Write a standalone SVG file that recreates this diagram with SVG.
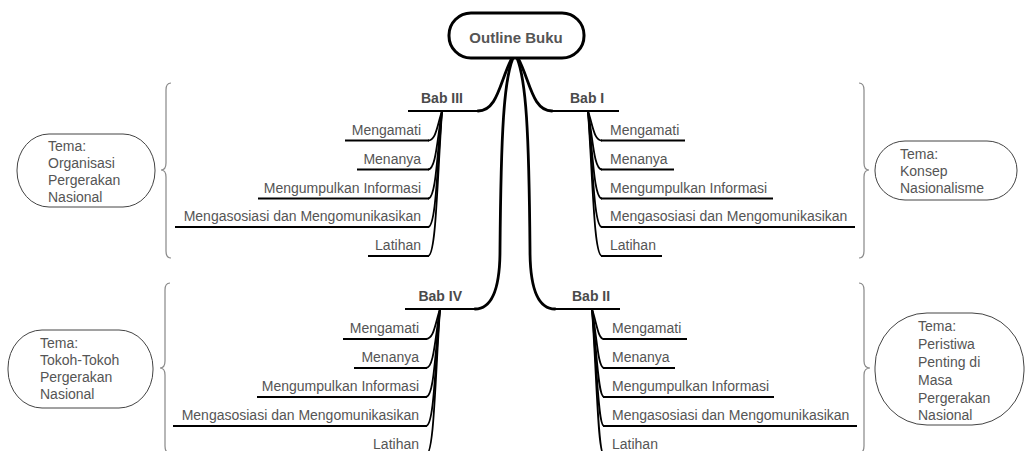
<svg xmlns="http://www.w3.org/2000/svg" width="1025" height="451" viewBox="0 0 1025 451">
<style>
  text { font-family: "Liberation Sans", Arial, sans-serif; }
  .root { fill: #fff; stroke: #000; stroke-width: 3; }
  .roottxt { font-size: 15px; font-weight: bold; fill: #555; text-anchor: middle; }
  .bab { font-size: 14px; font-weight: bold; fill: #4a4a4a; }
  .item { font-size: 14px; fill: #555; }
  .theme { font-size: 14px; fill: #555; }
  .ul { stroke: #000; stroke-width: 1.8; fill: none; }
  .main { stroke: #000; stroke-width: 2.8; fill: none; stroke-linecap: round; }
  .sub { stroke: #000; stroke-width: 1.8; fill: none; }
  .box { fill: #fff; stroke: #444; stroke-width: 1; }
  .brace { fill: none; stroke: #888; stroke-width: 1.2; }
  .end { text-anchor: end; }
</style>
<rect width="1025" height="451" fill="#fff"/>
<g id="connectors">
  <path class="main" d="M512,58 C500,80 498,111 478,111"/>
  <path class="main" d="M518,58 C530,80 532,111 552,111"/>
  <path class="main" d="M513,58 C504,80 501,130 500,250 C500,290 492,309 475,309"/>
  <path class="main" d="M517,58 C526,80 529,130 530,250 C530,290 538,309 555,309"/>
  <path class="sub" d="M442,111 C437,126 436,140.5 428,140.5"/>
  <path class="sub" d="M442,111 C437,140 436,169.5 428,169.5"/>
  <path class="sub" d="M442,111 C437,155 436,198.5 428,198.5"/>
  <path class="sub" d="M442,111 C437,169 436,227 428,227"/>
  <path class="sub" d="M442,111 C437,184 436,256 428,256"/>
  <path class="sub" d="M588,111 C593,126 594,140.5 602,140.5"/>
  <path class="sub" d="M588,111 C593,140 594,169.5 602,169.5"/>
  <path class="sub" d="M588,111 C593,155 594,198.5 602,198.5"/>
  <path class="sub" d="M588,111 C593,169 594,227 602,227"/>
  <path class="sub" d="M588,111 C593,184 594,256 602,256"/>
  <path class="sub" d="M440,309 C435,324 434,339 426,339"/>
  <path class="sub" d="M440,309 C435,338 434,368 426,368"/>
  <path class="sub" d="M440,309 C435,353 434,397 426,397"/>
  <path class="sub" d="M440,309 C435,367 434,426 426,426"/>
  <path class="sub" d="M440,309 C435,382 434,455 426,455"/>
  <path class="sub" d="M592,309 C597,324 598,339 604,339"/>
  <path class="sub" d="M592,309 C597,338 598,368 604,368"/>
  <path class="sub" d="M592,309 C597,353 598,397 604,397"/>
  <path class="sub" d="M592,309 C597,367 598,426 604,426"/>
  <path class="sub" d="M592,309 C597,382 598,455 604,455"/>
</g>
<g id="root">
  <rect class="root" x="449" y="13" width="135" height="45" rx="22" ry="22"/>
  <text class="roottxt" x="516" y="43">Outline Buku</text>
</g>
<g id="bab3">
  <line class="ul" x1="408" y1="111" x2="479" y2="111"/>
  <text class="bab end" x="463" y="103">Bab III</text>
</g>
<g id="bab3-1"><line class="ul" x1="345" y1="140.5" x2="429" y2="140.5"/><text class="item end" x="421" y="134.5">Mengamati</text></g>
<g id="bab3-2"><line class="ul" x1="357" y1="169.5" x2="429" y2="169.5"/><text class="item end" x="421" y="163.5">Menanya</text></g>
<g id="bab3-3"><line class="ul" x1="258" y1="198.5" x2="429" y2="198.5"/><text class="item end" x="421" y="192.5">Mengumpulkan Informasi</text></g>
<g id="bab3-4"><line class="ul" x1="175" y1="227" x2="429" y2="227"/><text class="item end" x="421" y="221">Mengasosiasi dan Mengomunikasikan</text></g>
<g id="bab3-5"><line class="ul" x1="368" y1="256" x2="429" y2="256"/><text class="item end" x="421" y="250">Latihan</text></g>

<g id="bab1">
  <line class="ul" x1="551" y1="111" x2="619" y2="111"/>
  <text class="bab" x="570" y="103">Bab I</text>
</g>
<g id="bab1-1"><line class="ul" x1="601" y1="140.5" x2="685" y2="140.5"/><text class="item" x="610" y="134.5">Mengamati</text></g>
<g id="bab1-2"><line class="ul" x1="601" y1="169.5" x2="674" y2="169.5"/><text class="item" x="610" y="163.5">Menanya</text></g>
<g id="bab1-3"><line class="ul" x1="601" y1="198.5" x2="773" y2="198.5"/><text class="item" x="610" y="192.5">Mengumpulkan Informasi</text></g>
<g id="bab1-4"><line class="ul" x1="601" y1="227" x2="855" y2="227"/><text class="item" x="610" y="221">Mengasosiasi dan Mengomunikasikan</text></g>
<g id="bab1-5"><line class="ul" x1="601" y1="256" x2="662" y2="256"/><text class="item" x="610" y="250">Latihan</text></g>

<g id="bab4">
  <line class="ul" x1="405" y1="309" x2="476" y2="309"/>
  <text class="bab end" x="462" y="301">Bab IV</text>
</g>
<g id="bab4-1"><line class="ul" x1="343" y1="339" x2="427" y2="339"/><text class="item end" x="419" y="333">Mengamati</text></g>
<g id="bab4-2"><line class="ul" x1="354" y1="368" x2="427" y2="368"/><text class="item end" x="419" y="362">Menanya</text></g>
<g id="bab4-3"><line class="ul" x1="257" y1="397" x2="427" y2="397"/><text class="item end" x="419" y="391">Mengumpulkan Informasi</text></g>
<g id="bab4-4"><line class="ul" x1="173" y1="426" x2="427" y2="426"/><text class="item end" x="419" y="420">Mengasosiasi dan Mengomunikasikan</text></g>
<g id="bab4-5"><line class="ul" x1="366" y1="455" x2="427" y2="455"/><text class="item end" x="419" y="449">Latihan</text></g>

<g id="bab2">
  <line class="ul" x1="554" y1="309" x2="620" y2="309"/>
  <text class="bab" x="572" y="301">Bab II</text>
</g>
<g id="bab2-1"><line class="ul" x1="603" y1="339" x2="687" y2="339"/><text class="item" x="612" y="333">Mengamati</text></g>
<g id="bab2-2"><line class="ul" x1="603" y1="368" x2="675" y2="368"/><text class="item" x="612" y="362">Menanya</text></g>
<g id="bab2-3"><line class="ul" x1="603" y1="397" x2="774" y2="397"/><text class="item" x="612" y="391">Mengumpulkan Informasi</text></g>
<g id="bab2-4"><line class="ul" x1="603" y1="426" x2="857" y2="426"/><text class="item" x="612" y="420">Mengasosiasi dan Mengomunikasikan</text></g>
<g id="bab2-5"><line class="ul" x1="603" y1="455" x2="664" y2="455"/><text class="item" x="612" y="449">Latihan</text></g>

<g id="brace-tl"><path class="brace" d="M171,83 Q166,83 166,90 L166,163 Q166,170 161,170 Q166,170 166,177 L166,251 Q166,258 171,258"/></g>
<g id="brace-tr"><path class="brace" d="M859,83 Q864,83 864,90 L864,163 Q864,170 869,170 Q864,170 864,177 L864,251 Q864,258 859,258"/></g>
<g id="brace-bl"><path class="brace" d="M170,283 Q165,283 165,290 L165,361 Q165,368 160,368 Q165,368 165,375 L165,446 Q165,453 170,453"/></g>
<g id="brace-br"><path class="brace" d="M859,283 Q864,283 864,290 L864,361 Q864,368 870,368 Q864,368 864,375 L864,446 Q864,453 859,453"/></g>

<g id="theme-bab3">
  <rect class="box" x="17" y="134" width="138" height="73" rx="32" ry="36"/>
  <text class="theme" x="48" y="151">Tema:</text>
  <text class="theme" x="48" y="168">Organisasi</text>
  <text class="theme" x="48" y="185">Pergerakan</text>
  <text class="theme" x="48" y="202">Nasional</text>
</g>
<g id="theme-bab1">
  <rect class="box" x="875" y="141" width="142" height="59" rx="30" ry="29"/>
  <text class="theme" x="900" y="159">Tema:</text>
  <text class="theme" x="900" y="176">Konsep</text>
  <text class="theme" x="900" y="193">Nasionalisme</text>
</g>
<g id="theme-bab4">
  <rect class="box" x="8" y="330" width="145" height="78" rx="34" ry="38"/>
  <text class="theme" x="40" y="348">Tema:</text>
  <text class="theme" x="40" y="365">Tokoh-Tokoh</text>
  <text class="theme" x="40" y="382">Pergerakan</text>
  <text class="theme" x="40" y="399">Nasional</text>
</g>
<g id="theme-bab2">
  <rect class="box" x="875" y="313" width="149" height="112" rx="52" ry="54"/>
  <text class="theme" x="918" y="331">Tema:</text>
  <text class="theme" x="918" y="349">Peristiwa</text>
  <text class="theme" x="918" y="367">Penting di</text>
  <text class="theme" x="918" y="385">Masa</text>
  <text class="theme" x="918" y="403">Pergerakan</text>
  <text class="theme" x="918" y="420">Nasional</text>
</g>
</svg>
